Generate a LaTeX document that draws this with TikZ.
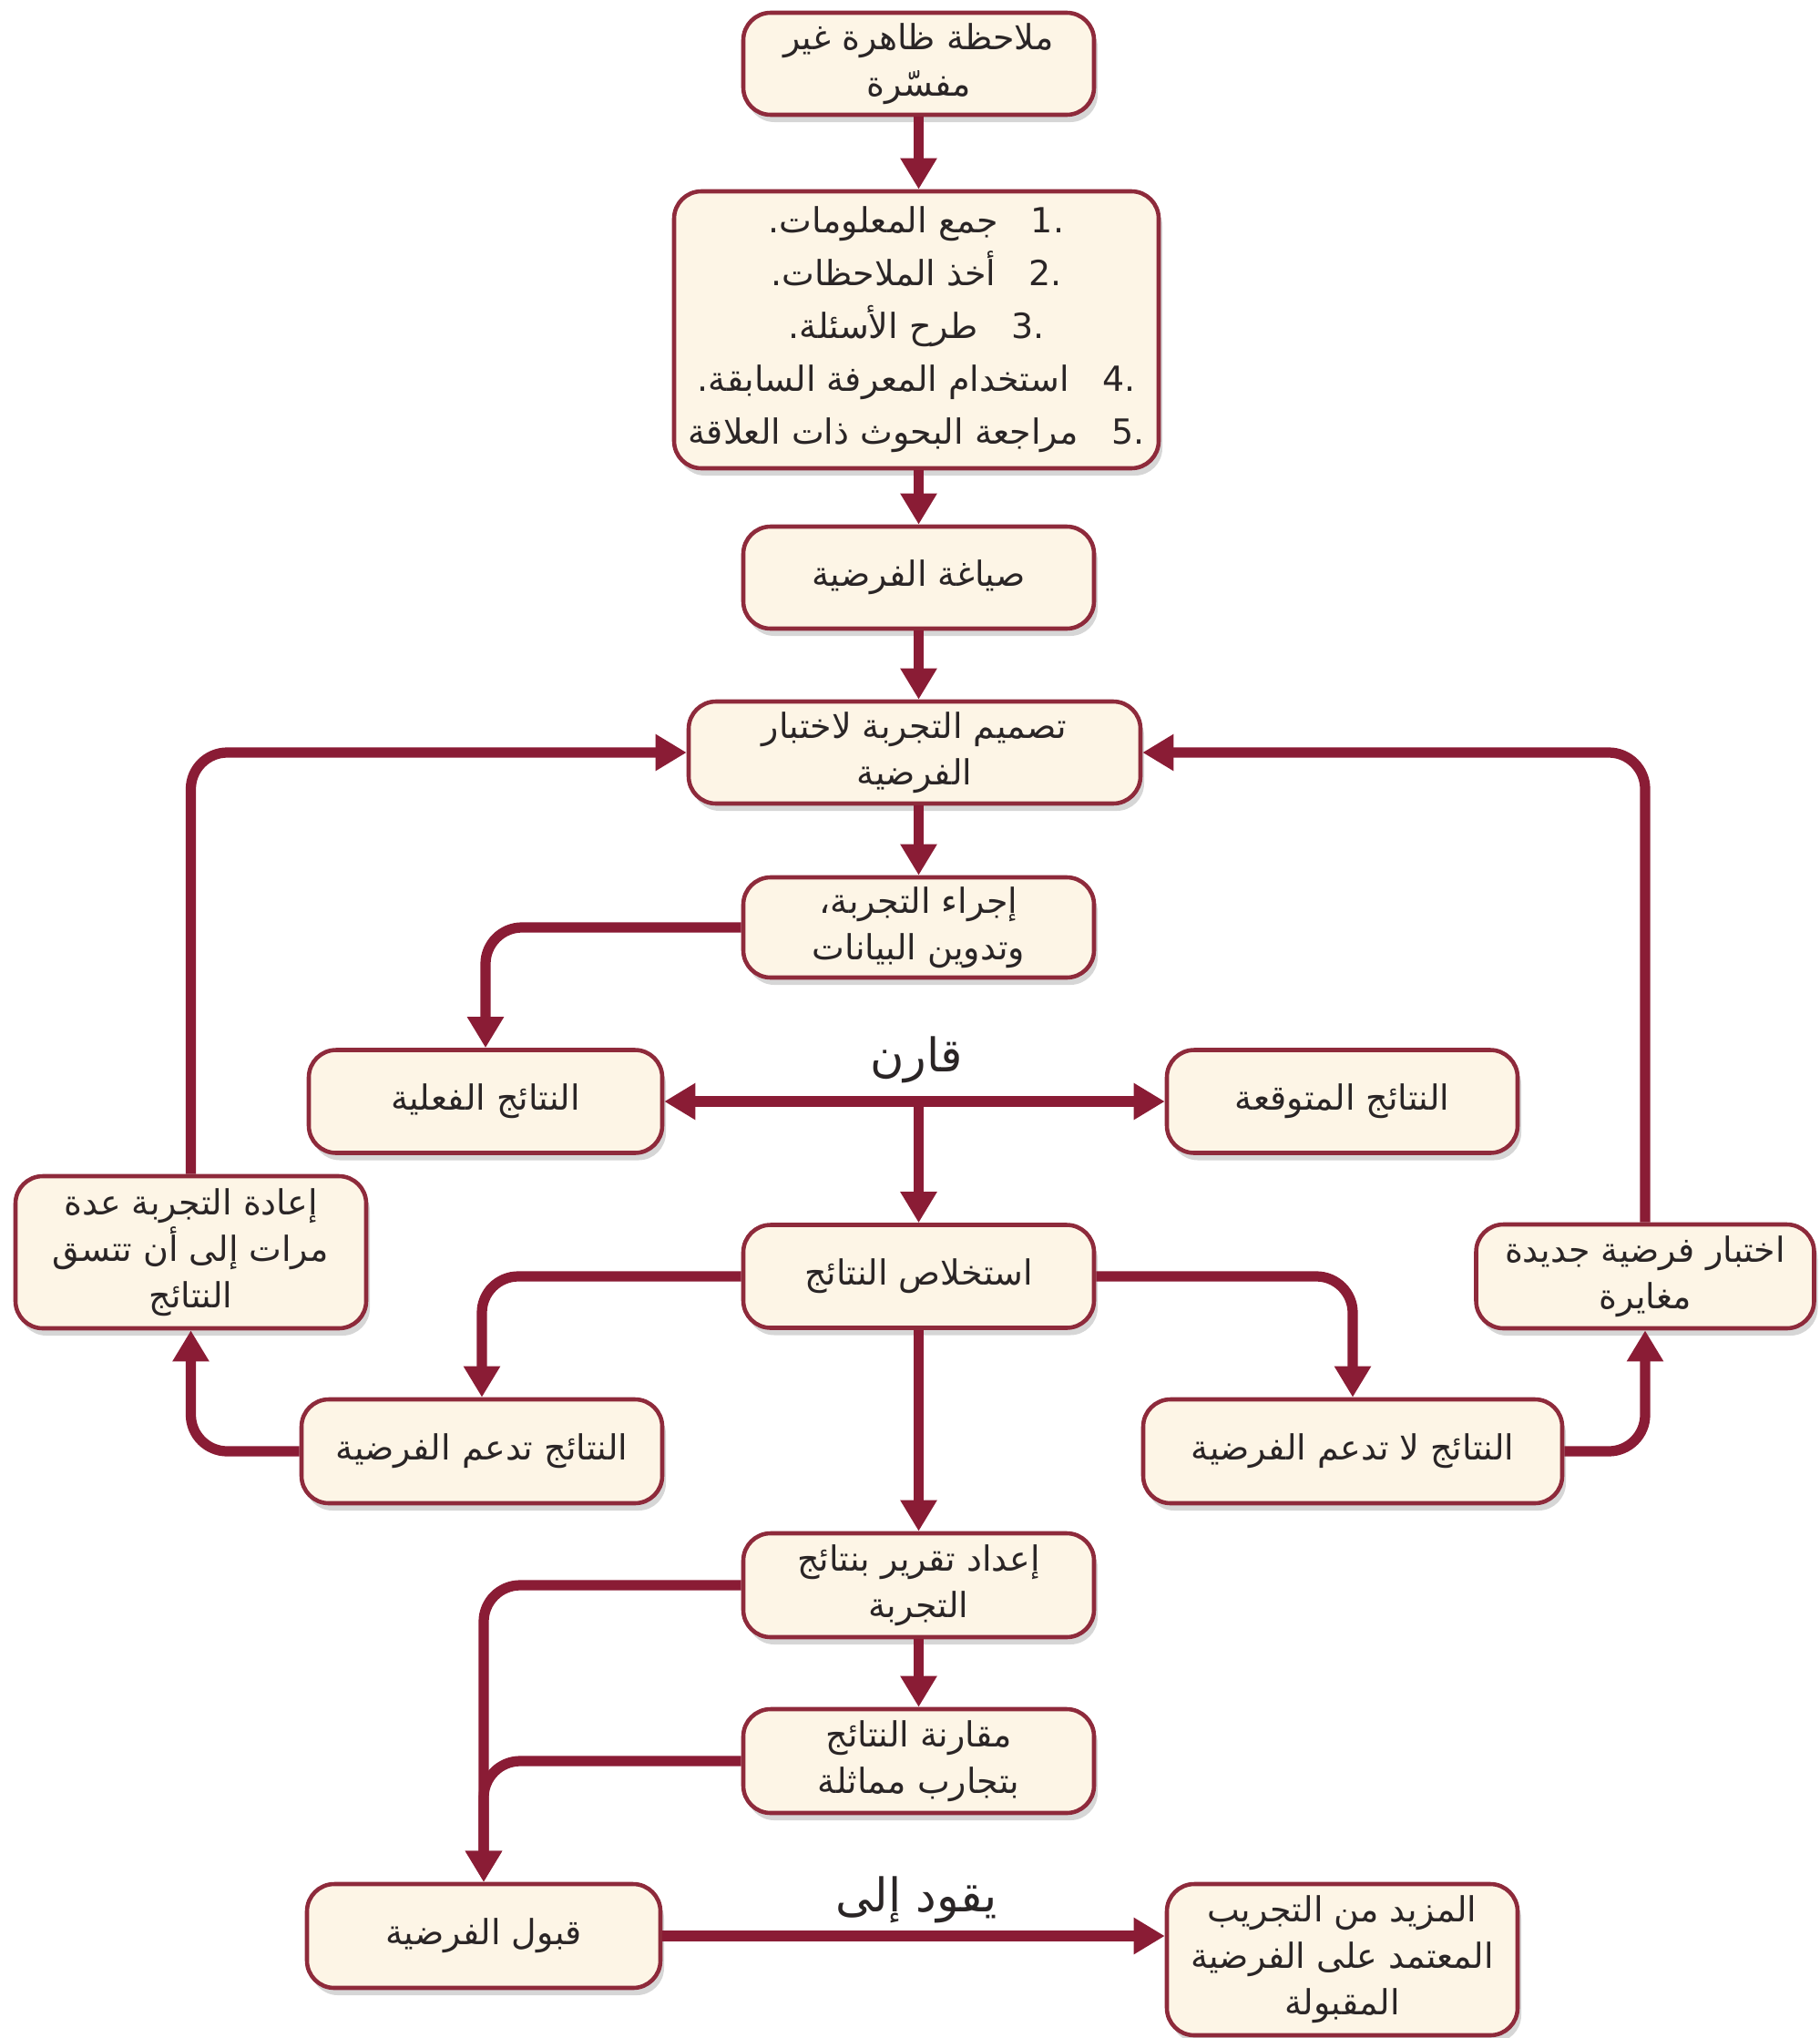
\documentclass[tikz,border=0pt]{standalone}
\usepackage{fontspec}
\TeXXeTstate=1
\newfontfamily\arabicfont[Script=Arabic]{DejaVu Sans}
\newfontfamily\latinnum{DejaVu Sans}
\usetikzlibrary{arrows.meta,shadows}
\definecolor{mar}{HTML}{8A1C35}
\definecolor{brd}{HTML}{8E2A3B}
\definecolor{crm}{HTML}{FDF5E6}
\definecolor{txt}{HTML}{2A2526}
\newcommand\artext[1]{\beginR#1\endR}
\newcommand\num[1]{\beginL{\latinnum #1}\endL{}}
\begin{document}
\begin{tikzpicture}[
  box/.style={draw=brd, line width=1.3pt, fill=crm, rounded corners=0.3cm,
    align=center, text=txt, inner sep=2pt,
    font=\arabicfont\fontsize{10.8}{14.5}\selectfont,
    drop shadow={shadow xshift=0.04cm, shadow yshift=-0.08cm, fill=black, opacity=0.16}},
  conn/.style={draw=mar, line width=3.2pt, rounded corners=0.4cm,
    -{Triangle[width=0.38cm,length=0.34cm]}},
  lbl/.style={text=txt, font=\arabicfont\fontsize{14.5}{17}\selectfont}
]
\useasboundingbox (0,0) rectangle (19.97,-22.37);

\node[box, minimum width=3.85cm, minimum height=1.12cm] (obs) at (10.085,-0.70)
  {\artext{ملاحظة ظاهرة غير}\\\artext{مفسّرة}};
\node[box, minimum width=5.32cm, minimum height=3.04cm,
  font=\arabicfont\fontsize{10.8}{16.5}\selectfont] (list) at (10.06,-3.62)
  {\artext{\num{1.}\ \ \ جمع المعلومات.}\\
   \artext{\num{2.}\ \ \ أخذ الملاحظات.}\\
   \artext{\num{3.}\ \ \ طرح الأسئلة.}\\
   \artext{\num{4.}\ \ \ استخدام المعرفة السابقة.}\\
   \artext{\num{5.}\ \ \ مراجعة البحوث ذات العلاقة}};
\node[box, minimum width=3.85cm, minimum height=1.12cm] (form) at (10.085,-6.34)
  {\artext{صياغة الفرضية}};
\node[box, minimum width=4.96cm, minimum height=1.12cm] (design) at (10.04,-8.26)
  {\artext{تصميم التجربة لاختبار}\\\artext{الفرضية}};
\node[box, minimum width=3.85cm, minimum height=1.10cm] (do) at (10.085,-10.18)
  {\artext{إجراء التجربة،}\\\artext{وتدوين البيانات}};
\node[box, minimum width=3.88cm, minimum height=1.13cm] (fact) at (5.33,-12.09)
  {\artext{النتائج الفعلية}};
\node[box, minimum width=3.85cm, minimum height=1.13cm] (expct) at (14.735,-12.09)
  {\artext{النتائج المتوقعة}};
\node[box, minimum width=3.85cm, minimum height=1.13cm] (concl) at (10.085,-14.01)
  {\artext{استخلاص النتائج}};
\node[box, minimum width=3.85cm, minimum height=1.67cm] (rep) at (2.095,-13.745)
  {\artext{إعادة التجربة عدة}\\\artext{مرات إلى أن تتسق}\\\artext{النتائج}};
\node[box, minimum width=3.71cm, minimum height=1.14cm] (newhyp) at (18.06,-14.01)
  {\artext{اختبار فرضية جديدة}\\\artext{مغايرة}};
\node[box, minimum width=3.96cm, minimum height=1.14cm] (supp) at (5.29,-15.93)
  {\artext{النتائج تدعم الفرضية}};
\node[box, minimum width=4.60cm, minimum height=1.14cm] (nosupp) at (14.85,-15.93)
  {\artext{النتائج لا تدعم الفرضية}};
\node[box, minimum width=3.85cm, minimum height=1.14cm] (report) at (10.085,-17.40)
  {\artext{إعداد تقرير بنتائج}\\\artext{التجربة}};
\node[box, minimum width=3.85cm, minimum height=1.14cm] (compare) at (10.085,-19.33)
  {\artext{مقارنة النتائج}\\\artext{بتجارب مماثلة}};
\node[box, minimum width=3.88cm, minimum height=1.14cm] (accept) at (5.31,-21.25)
  {\artext{قبول الفرضية}};
\node[box, minimum width=3.85cm, minimum height=1.66cm] (more) at (14.735,-21.51)
  {\artext{المزيد من التجريب}\\\artext{المعتمد على الفرضية}\\\artext{المقبولة}};

\node[lbl] (cmplbl) at (10.06,-11.63) {\artext{قارن}};
\node[lbl] (leadlbl) at (10.06,-20.85) {\artext{يقود إلى}};

\coordinate (cmpmid) at (10.085,-12.09);

\draw[conn] (obs.south) -- (obs.south |- list.north);
\draw[conn] (obs.south |- list.south) -- (form.north);
\draw[conn] (form.south) -- (form.south |- design.north);
\draw[conn] (do.north |- design.south) -- (do.north);
\draw[conn] (do.west) -| (fact.north);
\draw[conn, {Triangle[width=0.38cm,length=0.34cm]}-{Triangle[width=0.38cm,length=0.34cm]}] (fact.east) -- (expct.west);
\draw[conn] (cmpmid) -- (concl.north);
\draw[conn] (concl.west) -| (supp.north);
\draw[conn] (concl.east) -| (nosupp.north);
\draw[conn] (concl) -- (report);
\draw[conn] (supp.west) -| (rep.south);
\draw[conn] (rep.north) |- (design.west);
\draw[conn] (nosupp.east) -| (newhyp.south);
\draw[conn] (newhyp.north) |- (design.east);
\draw[conn] (report) -- (compare);
\draw[conn] (report.west) -| (accept.north);
\draw[conn] (compare.west) -| (accept.north);
\draw[conn] (accept.east) -- (accept.east -| more.west);
\end{tikzpicture}
\end{document}
